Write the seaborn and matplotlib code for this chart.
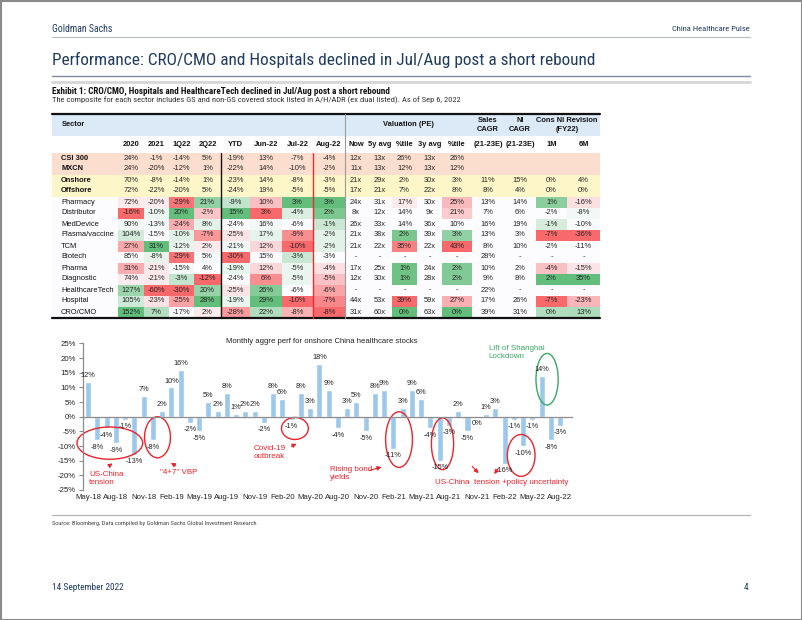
import numpy as np
import pandas as pd
import matplotlib
matplotlib.use('Agg')
import matplotlib.pyplot as plt
from matplotlib.patches import Ellipse, Rectangle
import seaborn as sns

# ---------------- table data ----------------
sectors = ['CSI 300', 'MXCN', 'Onshore', 'Offshore', 'Pharmacy', 'Distributor', 'MedDevice',
           'Plasma/vaccine', 'TCM', 'Biotech', 'Pharma', 'Diagnostic', 'HealthcareTech',
           'Hospital', 'CRO/CMO']
na = np.nan
r2020 = [24, 24, 70, 72, 72, -16, 90, 104, 27, 85, 31, 74, 127, 105, 152]
r2021 = [-1, -20, -8, -22, -20, -10, -13, -15, 31, -8, -21, -21, -60, -23, 7]
r1q22 = [-14, -12, -14, -20, -29, 20, -24, -10, -12, -29, -15, -3, -30, -25, -17]
r2q22 = [5, 1, 1, 5, 21, -2, 8, -7, 2, 5, 4, -12, 20, 28, 2]
ytd = [-19, -22, -23, -24, -9, 15, -24, -25, -21, -30, -19, -24, -25, -19, -28]
jun22 = [13, 14, 14, 19, 10, 3, 16, 17, 12, 15, 12, 6, 26, 29, 22]
jul22 = [-7, -10, -8, -5, 3, -4, -6, -9, -10, -3, -5, -5, -6, -10, -8]
aug22 = [-4, -2, -3, -5, 3, 2, -1, -2, -2, -3, -4, -5, -6, -7, -8]
pe_now = [12, 11, 21, 17, 24, 8, 26, 21, 21, na, 17, 12, na, 44, 31]
pe_5y = [13, 13, 29, 21, 31, 12, 33, 38, 22, na, 25, 30, na, 53, 60]
pct_5y = [26, 12, 2, 7, 17, 14, 14, 2, 35, na, 1, 1, na, 39, 0]
pe_3y = [13, 13, 30, 22, 30, 9, 36, 39, 22, na, 24, 28, na, 59, 63]
pct_3y = [26, 12, 3, 8, 25, 21, 10, 3, 43, na, 2, 2, na, 27, 0]
sales_cagr = [None, None, 11, 8, 13, 7, 16, 13, 8, 28, 10, 9, 22, 17, 39]
ni_cagr = [None, None, 15, 4, 14, 6, 19, 3, 10, na, 2, 8, na, 26, 31]
rev_1m = [None, None, 0, 0, 1, -2, -1, -7, -2, na, -4, 2, na, -7, 0]
rev_6m = [None, None, 4, 0, -16, -8, -10, -36, -11, na, -15, 35, na, -23, 13]

col_names = ['2020', '2021', '1Q22', '2Q22', 'YTD', 'Jun-22', 'Jul-22', 'Aug-22', 'Now',
             '5y avg', '%tile', '3y avg', '%tile', '(21-23E)', '(21-23E)', '1M', '6M']
columns = [r2020, r2021, r1q22, r2q22, ytd, jun22, jul22, aug22, pe_now, pe_5y, pct_5y,
           pe_3y, pct_3y, sales_cagr, ni_cagr, rev_1m, rev_6m]
suffix = ['%'] * 8 + ['x', 'x', '%', 'x', '%', '%', '%', '%', '%']
# colour-scale mode per column: 1 = high is green, -1 = low is green, 0 = none
scale_mode = [1] * 8 + [0, 0, -1, 0, -1, 0, 0, 1, 1]

# ---------------- bar chart data ----------------
months = pd.date_range('2018-05-01', periods=52, freq='MS').strftime('%b-%y').tolist()
perf = [12, -8, -4, -9, -1, -13, 7, -8, 2, 10, 16, -2, -5, 5, 2, 8, 1, 2, 2, -2, 8, 6, -1, 8,
        3, 18, 9, -4, 3, 5, -5, 8, 9, -11, 3, 9, 6, -4, -15, -3, 2, -5, 0, 1, 3, -16, -1, -10,
        -1, 14, -8, -3]

sns.set_style('white')
plt.rcParams['font.family'] = ['Liberation Sans', 'DejaVu Sans']
NARROW = ['Liberation Sans Narrow', 'Roboto Condensed', 'Roboto', 'DejaVu Sans']
NAVY = '#1f3a5f'

fig = plt.figure(figsize=(8.02, 6.2), dpi=100)
page = fig.add_axes([0, 0, 1, 1])
page.set_xlim(0, 802)
page.set_ylim(620, 0)
page.axis('off')
renderer = fig.canvas.get_renderer()


def fit_text(x, y, s, width, size, **kw):
    # scale the font so that the text spans about `width` pixels
    t = page.text(x, y, s, fontsize=size, family=NARROW, fontstretch='condensed', **kw)
    w = t.get_window_extent(renderer=renderer).width
    t.set_fontsize(size * width / w)
    return t


# page frame and header
page.add_patch(Rectangle((0.5, 0.5), 801, 619, fill=False, ec='#8a8a8a', lw=1.5))
gs = fit_text(52, 29, 'Goldman Sachs', 61, 9, color=NAVY, va='center')
fit_text(750, 29, 'China Healthcare Pulse', 78, 7, color=NAVY, va='center', ha='right')
page.plot([52, 750], [37, 37], color='#b5b9c0', lw=0.8)
fit_text(52, 60, 'Performance: CRO/CMO and Hospitals declined in Jul/Aug post a short rebound',
         546, 14, color=NAVY, va='center')
page.plot([52, 750], [76, 76], color='#7d8aa0', lw=1.0)
page.plot([52, 750], [82, 82], color='#d6d6d6', lw=2.0)
fit_text(52, 91, 'Exhibit 1: CRO/CMO, Hospitals and HealthcareTech declined in Jul/Aug post a short rebound',
         340, 7, weight='bold', color='#111', va='center')
fit_text(52, 100.5, 'The composite for each sector includes GS and non-GS covered stock listed in A/H/ADR (ex dual listed). As of Sep 6, 2022',
         412, 7, color='#333', va='center')

# ---------------- table ----------------
RED = np.array([248, 105, 107]) / 255
WHITE = np.array([252, 252, 255]) / 255
GREEN = np.array([99, 190, 123]) / 255
PEACH = np.array([251, 222, 206]) / 255
YELLOW = np.array([252, 246, 200]) / 255
BLUE = np.array([220, 234, 248]) / 255


def scale_colors(vals, mode):
    v = np.array([np.nan if x is None else x for x in vals], dtype=float)
    lo, mid, hi = np.nanmin(v), np.nanmedian(v), np.nanmax(v)
    hi_c, lo_c = (GREEN, RED) if mode > 0 else (RED, GREEN)
    out = np.tile(WHITE, (len(v), 1))
    for i, x in enumerate(v):
        if np.isnan(x):
            continue
        if x >= mid:
            t = (x - mid) / (hi - mid) if hi > mid else 0
            out[i] = WHITE + t * (hi_c - WHITE)
        else:
            t = (mid - x) / (mid - lo)
            out[i] = WHITE + t * (lo_c - WHITE)
    return out


n_rows = len(sectors)
x_edges = [52, 118, 144, 169, 194, 221, 250, 282, 313, 345, 367, 392, 417, 442, 472, 504, 536,
           567, 600]
row_h = 11.0
y0 = 152.5
y_edges = y0 + row_h * np.arange(n_rows + 1)

rgb = np.tile(WHITE, (n_rows, len(col_names) + 1, 1))
rgb[0:2] = PEACH
rgb[2:4] = YELLOW
for j, (vals, mode) in enumerate(zip(columns, scale_mode)):
    if mode != 0:
        rgb[4:, j + 1] = scale_colors(vals[4:], mode)
page.pcolormesh(x_edges, y_edges, rgb, shading='flat')

# header bands
page.add_patch(Rectangle((52, 114.5), 548, 21.5, color=BLUE, lw=0))
hdr_kw = dict(fontsize=5.4, weight='bold', color='#111', ha='center', va='center',
              linespacing=1.25)
page.text(62, 125, 'Sector', **{**hdr_kw, 'ha': 'left'})
page.text((345 + 472) / 2, 125, 'Valuation (PE)', **hdr_kw)
page.text(488, 125, 'Sales\nCAGR', **hdr_kw)
page.text(520, 125, 'NI\nCAGR', **hdr_kw)
page.text(567, 125, 'Cons NI Revision\n(FY22)', **hdr_kw)
centers = [(x_edges[k + 1] + x_edges[k + 2]) / 2 for k in range(len(col_names))]
for cx, name in zip(centers, col_names):
    page.text(cx, 144, name, **hdr_kw)

for i, name in enumerate(sectors):
    yc = y0 + row_h * (i + 0.5)
    page.text(61, yc, name, fontsize=5.4, color='#111', va='center',
              weight='bold' if i < 4 else 'normal')
    for cx, vals, suf in zip(centers, columns, suffix):
        v = vals[i]
        if v is None:
            continue
        lab = '-' if np.isnan(v) else f'{int(v)}{suf}'
        page.text(cx, yc, lab, fontsize=5.4, color='#222', ha='center', va='center')

page.plot([52, 600], [114, 114], color='#111', lw=1.6)
page.plot([52, 600], [y_edges[-1], y_edges[-1]], color='#111', lw=1.6)
page.plot([221, 221], [y0, y_edges[-1]], color='#111', lw=1.0)
page.plot([313, 313], [y0, y_edges[-1]], color='#e03030', lw=1.0)
page.plot([345, 345], [114, y_edges[-1]], color='#9a9a9a', lw=0.8)

# ---------------- bar chart ----------------
ax = fig.add_axes([83 / 802, 1 - 490 / 620, (573 - 83) / 802, (490 - 343.5) / 620])
ax.patch.set_alpha(0)
sns.barplot(x=months, y=perf, color='#9cc8ec', width=0.65, saturation=1, ax=ax)
ax.set_xlim(-0.55, 52.4)
ax.set_ylim(-25, 25)
ax.axhline(0, color='#8c8c8c', lw=0.9)
ax.set_yticks(range(-25, 30, 5))
ax.set_yticklabels([f'{t}%' for t in range(-25, 30, 5)], fontsize=5.6, color='#222')
ax.set_xticks(range(0, 52, 3))
ax.set_xticklabels(months[::3], fontsize=5.6, color='#222')
ax.tick_params(axis='x', length=0, pad=3)
ax.tick_params(axis='y', length=3, width=0.8, color='#8c8c8c', pad=2, left=True)
for s in ['top', 'right', 'bottom']:
    ax.spines[s].set_visible(False)
ax.spines['left'].set_color('#8c8c8c')
ax.spines['left'].set_linewidth(0.9)
ax.set_xlabel('')
ax.set_ylabel('')

for i, v in enumerate(perf):
    if v > 0:
        ax.text(i, v + 1.0, f'{v}%', ha='center', va='bottom', fontsize=5.3, color='#222')
    else:
        ax.text(i, v - 1.2, f'{v}%', ha='center', va='top', fontsize=5.3, color='#222')

ax.text(25.3, 25.6, 'Monthly aggre perf for onshore China healthcare stocks', ha='center',
        va='center', fontsize=5.6, color='#222')

RED_A = '#e8242c'
GREEN_A = '#3aa865'
ell = [((2.35, -9.0), 7.1, 11.0, RED_A), ((7.5, -7.0), 2.8, 14.0, RED_A),
       ((22.35, -4.0), 2.9, 7.5, RED_A), ((33.6, -7.8), 2.9, 19.0, RED_A),
       ((38.3, -9.2), 2.4, 17.7, RED_A), ((46.8, -13.2), 3.0, 14.3, RED_A),
       ((49.6, 12.8), 2.4, 17.6, GREEN_A)]
for c, w, h, col in ell:
    ax.add_patch(Ellipse(c, w, h, fill=False, ec=col, lw=1.0, clip_on=False))

txt_kw = dict(fontsize=5.8, color=RED_A, va='center', ha='left', linespacing=1.2)
ax.text(0.1, -21.2, 'US-China\ntension', **txt_kw)
ax.text(7.8, -19.0, '"4+7" VBP', **txt_kw)
ax.text(17.9, -12.3, 'Covid-19\noutbreak', **txt_kw)
ax.text(26.1, -19.5, 'Rising bond\nyields', **txt_kw)
ax.text(37.5, -22.4, 'US-China  tension +policy uncertainty', **txt_kw)
ax.text(43.3, 21.8, 'Lift of Shanghai\nLockdown', **{**txt_kw, 'color': GREEN_A})

arrows = [((2.2, -16.9), (2.9, -15.4)), ((9.7, -17.2), (8.7, -15.2)),
          ((21.7, -10.5), (22.8, -8.8)), ((30.1, -18.6), (32.0, -16.9)),
          ((41.3, -16.2), (42.4, -20.0)), ((44.5, -16.9), (43.7, -20.3))]
for start, end in arrows:
    ax.annotate('', xy=end, xytext=start, annotation_clip=False,
                arrowprops=dict(arrowstyle='-|>', color=RED_A, lw=0.8, mutation_scale=6))

# ---------------- footer ----------------
page.plot([52, 750], [515, 515], color='#b0b0b0', lw=0.8)
fit_text(52, 523, 'Source: Bloomberg, Data compiled by Goldman Sachs Global Investment Research',
         210, 5, color='#444', va='center')
foot = gs.get_fontsize() * 0.95
page.text(52, 588, '14 September 2022', family=NARROW, fontstretch='condensed', fontsize=foot,
          color=NAVY, va='center')
page.text(748, 588, '4', family=NARROW, fontstretch='condensed', fontsize=foot, color=NAVY,
          va='center', ha='right')

fig.savefig('out.png', dpi=100)
